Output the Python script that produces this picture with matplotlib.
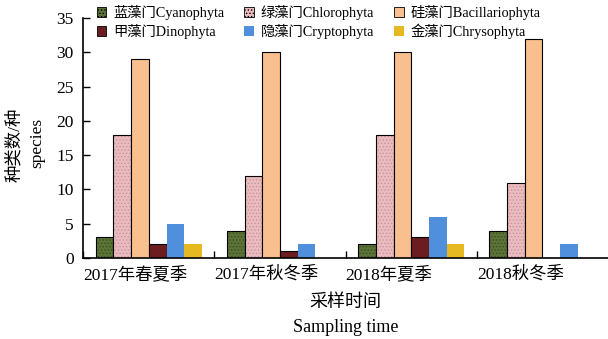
import matplotlib
matplotlib.use("Agg")
import matplotlib.pyplot as plt
from matplotlib.patches import Patch
import numpy as np

plt.rcParams['font.family'] = ['Liberation Serif', 'Noto Sans CJK SC', 'DejaVu Sans']
plt.rcParams['hatch.linewidth'] = 0.6

categories = ['2017年春夏季', '2017年秋冬季', '2018年夏季', '2018秋冬季']
series_names = ['蓝藻门Cyanophyta', '绿藻门Chlorophyta', '硅藻门Bacillariophyta',
                '甲藻门Dinophyta', '隐藻门Cryptophyta', '金藻门Chrysophyta']
cyanophyta = [3, 4, 2, 4]
chlorophyta = [18, 12, 18, 11]
bacillariophyta = [29, 30, 30, 32]
dinophyta = [2, 1, 3, 0]
cryptophyta = [5, 2, 6, 2]
chrysophyta = [2, 0, 2, 0]
values = [cyanophyta, chlorophyta, bacillariophyta, dinophyta, cryptophyta, chrysophyta]

colors = ['#5b7336', '#eabcc0', '#f9bf8e', '#6b1d1f', '#4f8fdc', '#e6b822']
hatches = ['.....', '.....', None, None, None, None]
hatch_colors = ['#3a4f22', '#c89398', None, None, None, None]
edged = [True, True, True, True, False, False]

fig = plt.figure(figsize=(6.08, 3.39), dpi=100)
ax = fig.add_axes([0.137, 0.239, 0.863, 0.708])

x = np.arange(len(categories))
w = 0.135
offsets = (np.arange(6) - 2.5) * w
for i in range(6):
    vals = values[i]
    if hatches[i]:
        ax.bar(x + offsets[i], vals, w, color=colors[i], hatch=hatches[i],
               edgecolor=hatch_colors[i], linewidth=0)
        ax.bar(x + offsets[i], vals, w, fill=False, edgecolor='black', linewidth=0.8)
    else:
        ax.bar(x + offsets[i], vals, w, color=colors[i],
               edgecolor='black' if edged[i] else colors[i],
               linewidth=0.8 if edged[i] else 0)

ax.set_xlim(-0.5, 3.5)
ax.set_ylim(0, 35)
ax.set_yticks(np.arange(0, 36, 5))
# category labels start at the boundary ticks
ax.set_xticks(x - 0.5)
ax.set_xticklabels(categories, fontsize=12.5, ha='left')
ax.tick_params(axis='x', direction='in', length=5, width=1, pad=6)
ax.tick_params(axis='y', direction='in', length=5, width=1, labelsize=12.5, pad=7)
for s in ['top', 'right']:
    ax.spines[s].set_visible(False)
for s in ['left', 'bottom']:
    ax.spines[s].set_linewidth(1.2)

cx = (83 + 608) / 2 / 608
fig.text(cx, 1 - 303 / 339, '采样时间', fontsize=13, ha='center', va='center')
fig.text(cx, 1 - 328 / 339, 'Sampling time', fontsize=13, ha='center', va='center')
fig.text(15 / 608, 1 - 145 / 339, '种类数/种', fontsize=12.5, rotation=90,
         ha='center', va='center')
fig.text(37 / 608, 1 - 143 / 339, 'species', fontsize=12.5, rotation=90,
         ha='center', va='center')

handles = []
for i in range(6):
    handles.append(Patch(facecolor=colors[i], hatch=hatches[i],
                         edgecolor='black' if edged[i] else colors[i],
                         linewidth=0.6 if edged[i] else 0))
order = [0, 3, 1, 4, 2, 5]
fig.legend([handles[k] for k in order], [series_names[k] for k in order],
           ncol=3, loc='upper left', bbox_to_anchor=(0.145, 1.01), frameon=False,
           fontsize=10.3, handlelength=0.65, handleheight=0.65, handletextpad=0.5,
           columnspacing=1.4, labelspacing=0.25, borderaxespad=0.2)

fig.savefig('out.png', dpi=100)
